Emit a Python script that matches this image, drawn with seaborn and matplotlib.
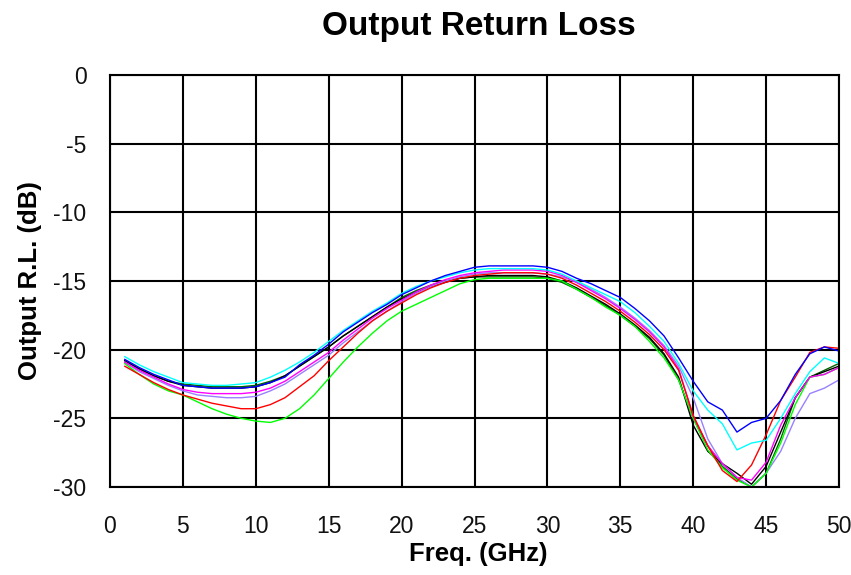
import numpy as np
import pandas as pd
import matplotlib
matplotlib.use("Agg")
import matplotlib.pyplot as plt
import seaborn as sns

freq = list(range(1, 51))

blue = [-20.7, -21.3, -21.8, -22.2, -22.6, -22.7, -22.8, -22.8, -22.8, -22.7,
        -22.4, -22.0, -21.1, -20.4, -19.6, -18.7, -18.0, -17.3, -16.7, -16.0,
        -15.5, -15.0, -14.6, -14.3, -14.0, -13.9, -13.9, -13.9, -13.9, -14.0,
        -14.3, -14.8, -15.2, -15.7, -16.2, -17.0, -17.9, -19.0, -20.6, -22.3,
        -23.8, -24.4, -26.0, -25.3, -25.0, -23.7, -21.8, -20.3, -19.8, -20.1]
cyan = [-20.5, -21.1, -21.6, -22.0, -22.4, -22.5, -22.6, -22.6, -22.5, -22.4,
        -22.0, -21.5, -20.9, -20.2, -19.4, -18.6, -17.9, -17.2, -16.6, -15.9,
        -15.4, -15.0, -14.7, -14.4, -14.2, -14.1, -14.1, -14.1, -14.1, -14.2,
        -14.5, -15.0, -15.5, -16.0, -16.5, -17.3, -18.3, -19.4, -21.0, -23.0,
        -24.4, -25.4, -27.3, -26.8, -26.6, -25.0, -23.2, -21.6, -20.6, -21.0]
magenta = [-20.9, -21.5, -22.0, -22.5, -22.9, -23.1, -23.2, -23.2, -23.2, -23.1,
           -22.8, -22.3, -21.6, -20.9, -20.2, -19.3, -18.5, -17.7, -17.0, -16.4,
           -15.8, -15.3, -14.9, -14.6, -14.4, -14.3, -14.2, -14.2, -14.2, -14.3,
           -14.6, -15.1, -15.7, -16.3, -17.0, -17.8, -18.7, -19.8, -21.4, -24.8,
           -27.0, -28.3, -29.3, -29.5, -28.2, -25.5, -23.5, -22.0, -21.8, -21.3]
red = [-21.2, -21.8, -22.4, -22.9, -23.3, -23.6, -23.9, -24.1, -24.3, -24.3,
       -24.0, -23.5, -22.7, -21.9, -20.8, -19.8, -18.8, -17.9, -17.2, -16.6,
       -16.0, -15.5, -15.1, -14.8, -14.6, -14.5, -14.4, -14.4, -14.4, -14.5,
       -14.8, -15.3, -15.9, -16.5, -17.2, -18.0, -18.9, -20.0, -21.5, -24.8,
       -27.0, -28.8, -29.6, -28.4, -26.2, -23.7, -22.0, -20.2, -19.8, -19.9]
green = [-21.0, -21.8, -22.5, -23.0, -23.3, -23.8, -24.3, -24.7, -25.0, -25.2,
         -25.3, -25.0, -24.3, -23.3, -22.1, -20.9, -19.8, -18.8, -17.9, -17.2,
         -16.7, -16.2, -15.7, -15.2, -14.9, -14.8, -14.8, -14.8, -14.8, -14.8,
         -15.0, -15.6, -16.2, -16.9, -17.5, -18.3, -19.4, -20.6, -22.2, -25.0,
         -27.3, -28.6, -29.5, -30.0, -29.0, -26.8, -24.0, -22.0, -21.8, -21.3]
black = [-20.8, -21.4, -21.9, -22.3, -22.6, -22.7, -22.8, -22.8, -22.8, -22.7,
         -22.4, -21.9, -21.2, -20.5, -19.8, -19.0, -18.3, -17.6, -16.9, -16.3,
         -15.8, -15.4, -15.1, -14.8, -14.7, -14.6, -14.6, -14.6, -14.6, -14.7,
         -15.0, -15.5, -16.1, -16.7, -17.4, -18.2, -19.1, -20.3, -22.0, -25.5,
         -27.4, -28.3, -29.0, -29.8, -28.5, -26.0, -23.5, -22.0, -21.6, -21.2]
darkgreen = [-20.8, -21.4, -21.9, -22.3, -22.5, -22.6, -22.7, -22.7, -22.7, -22.6,
             -22.3, -21.9, -21.2, -20.5, -19.8, -19.0, -18.3, -17.6, -16.9, -16.2,
             -15.7, -15.3, -15.0, -14.8, -14.7, -14.7, -14.7, -14.7, -14.7, -14.8,
             -15.1, -15.6, -16.2, -16.8, -17.5, -18.3, -19.2, -20.4, -22.2, -25.0,
             -27.0, -28.5, -29.4, -30.0, -29.0, -26.5, -23.5, -22.0, -21.5, -21.0]
purple = [-20.9, -21.6, -22.1, -22.6, -23.0, -23.3, -23.4, -23.5, -23.5, -23.4,
          -23.0, -22.5, -21.8, -21.1, -20.4, -19.5, -18.7, -17.9, -17.2, -16.5,
          -15.9, -15.4, -15.0, -14.7, -14.5, -14.4, -14.4, -14.4, -14.4, -14.5,
          -14.7, -15.1, -15.6, -16.2, -16.9, -17.7, -18.6, -19.7, -21.2, -23.5,
          -26.5, -28.3, -29.3, -30.0, -29.0, -27.4, -25.0, -23.2, -22.8, -22.2]

series = {
    "darkgreen": darkgreen, "black": black, "purple": purple, "green": green,
    "magenta": magenta, "red": red, "cyan": cyan, "blue": blue,
}
colors = {
    "darkgreen": "#006400", "black": "#000000", "purple": "#9980FF",
    "green": "#00FF00", "magenta": "#FF00FF", "red": "#FF0000",
    "cyan": "#00FFFF", "blue": "#0000FF",
}

rows = []
for name, vals in series.items():
    for f, v in zip(freq, vals):
        rows.append({"freq": f, "rl": v, "unit": name})
df = pd.DataFrame(rows)

xticks = [0, 5, 10, 15, 20, 25, 30, 35, 40, 45, 50]
yticks = [0, -5, -10, -15, -20, -25, -30]

sns.set_theme(style="white")
plt.rcParams["font.family"] = ["Liberation Sans", "DejaVu Sans"]

fig = plt.figure(figsize=(8.51, 5.75), dpi=100)
ax = fig.add_axes([110 / 851, 1 - 487 / 575, (839 - 110) / 851, (487 - 75) / 575])

sns.lineplot(data=df, x="freq", y="rl", hue="unit", palette=colors,
             hue_order=list(series.keys()), linewidth=1.0, legend=False,
             ax=ax, estimator=None, sort=False)

ax.set_xlim(0, 50)
ax.set_ylim(-30, 0)
ax.set_xticks(xticks)
ax.set_yticks(yticks)
ax.set_xticklabels([str(t) for t in xticks], fontsize=16.5, color="#111111")
ax.set_yticklabels([str(t) for t in yticks], fontsize=16.5, color="#111111")
ax.tick_params(axis="x", length=0, pad=20)
ax.tick_params(axis="y", length=0, pad=17)
ax.grid(True, color="black", linewidth=1.5)
ax.set_axisbelow(True)
for s in ax.spines.values():
    s.set_color("black")
    s.set_linewidth(1.5)
ax.set_xlabel("")
ax.set_ylabel("")

fig.text(479 / 851, 1 - 35.5 / 575, "Output Return Loss", ha="center", va="baseline",
         fontsize=24, fontweight="bold", color="black")
fig.text(478 / 851, 1 - 554 / 575, "Freq. (GHz)", ha="center", va="center",
         fontsize=18.5, fontweight="bold", color="black")
fig.text(30 / 851, 1 - 281 / 575, "Output R.L. (dB)", ha="center", va="center",
         rotation=90, fontsize=18.5, fontweight="bold", color="black")

fig.savefig("out.png", dpi=100, facecolor="white")
